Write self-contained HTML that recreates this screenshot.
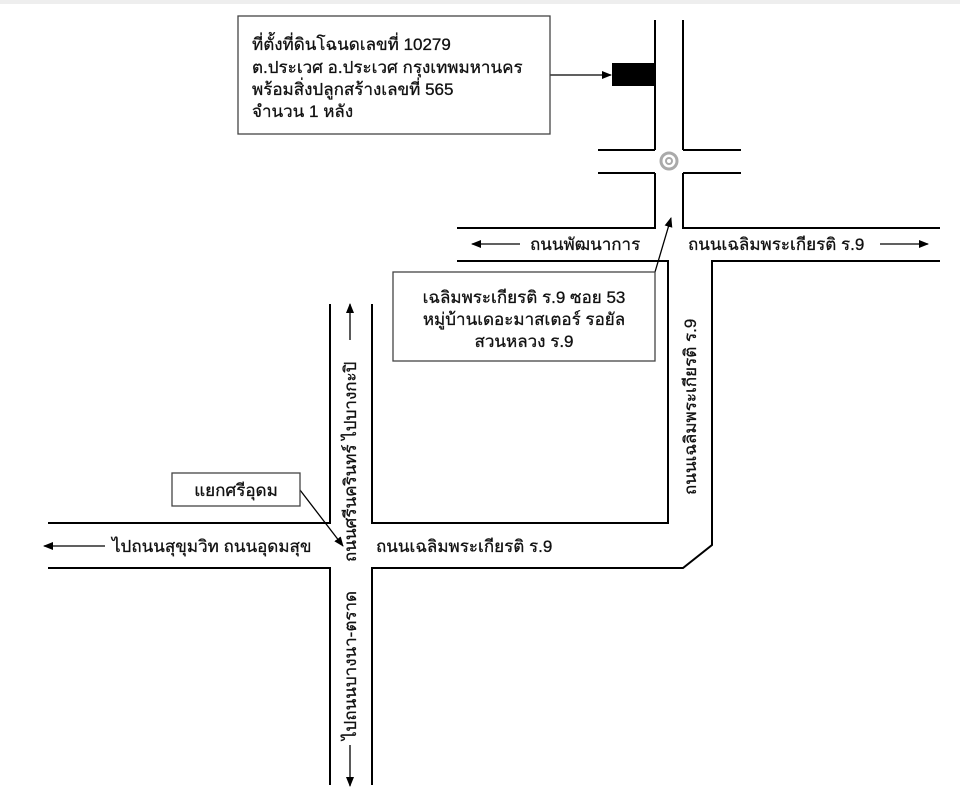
<!DOCTYPE html>
<html><head><meta charset="utf-8"><style>
body{margin:0;background:#fff;width:960px;height:800px;overflow:hidden}
svg text{font-family:"Liberation Sans","Noto Sans CJK SC",sans-serif;font-size:17px;fill:#111;stroke:#111;stroke-width:0.3}
</style></head><body>
<svg width="960" height="800" xmlns="http://www.w3.org/2000/svg">
<defs><marker id="a" markerWidth="10" markerHeight="8" refX="9" refY="4" orient="auto" markerUnits="userSpaceOnUse"><path d="M0,0 L10,4 L0,8z" fill="#000"/></marker></defs>
<rect x="0" y="0" width="960" height="4" fill="#eee"/>
<g stroke="#000" stroke-width="2" fill="none">
<line x1="655" y1="20" x2="655" y2="150"/><line x1="683" y1="20" x2="683" y2="150"/>
<line x1="598" y1="150" x2="655" y2="150"/><line x1="683" y1="150" x2="741" y2="150"/>
<line x1="598" y1="173" x2="655" y2="173"/><line x1="683" y1="173" x2="741" y2="173"/>
<polyline points="655,173 655,228 457,228"/><polyline points="683,173 683,228 940,228"/>
<polyline points="457,261 668,261 668,523 372,523 372,304"/>
<polyline points="940,261 712,261 712,545 683,568 372,568 372,785"/>
<polyline points="330,304 330,523 48,523"/>
<polyline points="48,568 330,568 330,785"/>
</g>
<rect x="612" y="63" width="43" height="23" fill="#000"/>
<circle cx="669" cy="161" r="8" fill="none" stroke="#aaa" stroke-width="3"/>
<circle cx="669" cy="161" r="3" fill="none" stroke="#aaa" stroke-width="2"/>
<g stroke="#000" stroke-width="1.3" marker-end="url(#a)">
<line x1="550" y1="75" x2="611" y2="75"/>
<line x1="520" y1="244" x2="472" y2="244"/>
<line x1="880" y1="244" x2="928" y2="244"/>
<line x1="105" y1="546" x2="44" y2="546"/>
<line x1="655" y1="272" x2="671" y2="218"/>
<line x1="300" y1="490" x2="343" y2="546"/>
<line x1="350" y1="340" x2="350" y2="304"/>
<line x1="350" y1="745" x2="350" y2="786"/>
</g>
<rect x="238" y="16" width="312" height="118" fill="none" stroke="#444" stroke-width="1.3"/>
<text x="252" y="50">ที่ตั้งที่ดินโฉนดเลขที่ 10279</text>
<text x="252" y="73">ต.ประเวศ อ.ประเวศ กรุงเทพมหานคร</text>
<text x="252" y="95">พร้อมสิ่งปลูกสร้างเลขที่ 565</text>
<text x="252" y="117">จำนวน 1 หลัง</text>
<rect x="393" y="272" width="262" height="89" fill="none" stroke="#444" stroke-width="1.3"/>
<text x="524" y="303" text-anchor="middle">เฉลิมพระเกียรติ ร.9 ซอย 53</text>
<text x="524" y="325" text-anchor="middle">หมู่บ้านเดอะมาสเตอร์ รอยัล</text>
<text x="524" y="347" text-anchor="middle">สวนหลวง ร.9</text>
<rect x="172" y="473" width="128" height="33" fill="none" stroke="#444" stroke-width="1.3"/>
<text x="236" y="496" text-anchor="middle">แยกศรีอุดม</text>
<text x="530" y="250">ถนนพัฒนาการ</text>
<text x="688" y="250">ถนนเฉลิมพระเกียรติ ร.9</text>
<text x="112" y="552">ไปถนนสุขุมวิท  ถนนอุดมสุข</text>
<text x="376" y="552">ถนนเฉลิมพระเกียรติ ร.9</text>
<text transform="translate(356,562) rotate(-90)">ถนนศรีนครินทร์  ไปบางกะปิ</text>
<text transform="translate(356,740) rotate(-90)">ไปถนนบางนา-ตราด</text>
<text transform="translate(696,495) rotate(-90)">ถนนเฉลิมพระเกียรติ ร.9</text>
</svg>
</body></html>
